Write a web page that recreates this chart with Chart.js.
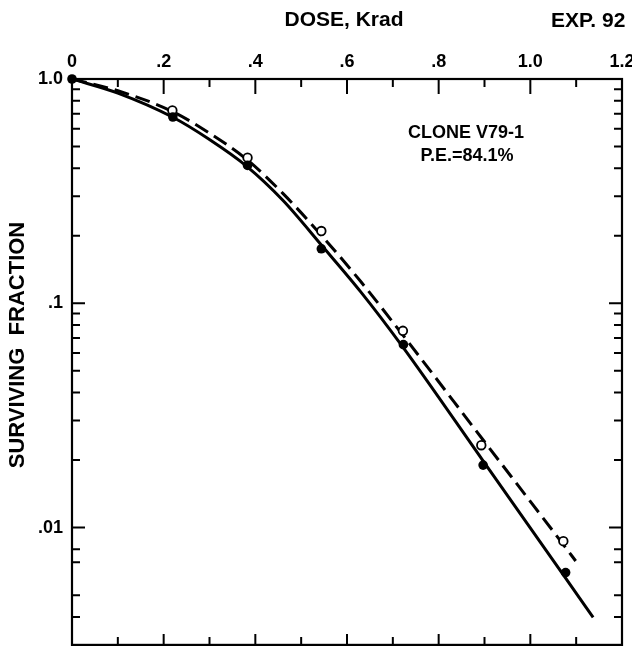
<!DOCTYPE html>
<html>
<head>
<meta charset="utf-8">
<script src="https://cdn.jsdelivr.net/npm/chart.js@4/dist/chart.umd.min.js"></script>
<style>
  html, body { margin: 0; padding: 0; background: #fff; }
  #c { display: block; }
</style>
</head>
<body>
<canvas id="c" width="632" height="651"></canvas>
<script>
// measured points (dose in krad, surviving fraction)
const doseFilled = [0, 0.22, 0.383, 0.544, 0.723, 0.897, 1.077];
const survFilled = [1.0, 0.677, 0.412, 0.175, 0.0654, 0.019, 0.0063];
const doseOpen = [0.219, 0.383, 0.544, 0.722, 0.893, 1.072];
const survOpen = [0.724, 0.446, 0.21, 0.0754, 0.0233, 0.0087];

// fitted curves
const doseSolidFit = [0, 0.1, 0.22, 0.3, 0.38, 0.46, 0.545, 0.63, 0.72, 0.895, 1.077, 1.137];
const survSolidFit = [1, 0.865, 0.675, 0.537, 0.41, 0.288, 0.181, 0.1125, 0.0646, 0.0201, 0.00595, 0.00398];
const doseDashedFit = [0, 0.1, 0.22, 0.3, 0.38, 0.46, 0.545, 0.63, 0.72, 0.895, 1.072, 1.099];
const survDashedFit = [1, 0.886, 0.715, 0.573, 0.44, 0.309, 0.2, 0.125, 0.073, 0.0249, 0.0084, 0.0071];

// axes
const xTickValues = [0, 0.1, 0.2, 0.3, 0.4, 0.5, 0.6, 0.7, 0.8, 0.9, 1.0, 1.1, 1.2];
const xTickLabels = ['0', '', '.2', '', '.4', '', '.6', '', '.8', '', '1.0', '', '1.2'];
const yTickValues = [0.004, 0.005, 0.007, 0.008, 0.01,
                     0.02, 0.03, 0.04, 0.05, 0.06, 0.07, 0.08, 0.09, 0.1,
                     0.2, 0.3, 0.4, 0.5, 0.6, 0.7, 0.8, 0.9, 1.0];
const yTickLabels = ['', '', '', '', '.01',
                     '', '', '', '', '', '', '', '', '.1',
                     '', '', '', '', '', '', '', '', '1.0'];

const xTitle = 'DOSE, Krad';
const expLabel = 'EXP. 92';
const yTitle = 'SURVIVING  FRACTION';
const noteLines = ['CLONE V79-1', 'P.E.=84.1%'];

function pts(xs, ys) {
    return xs.map((x, i) => ({x: x, y: ys[i]}));
}

function labelFor(values, labels, v) {
    for(let i=0; i<values.length; ++i) {
        if(Math.abs(values[i] - v) < 1e-9) return labels[i];
    }
    return '';
}

// frame, inward tick marks and loose text
const paperPlugin = {
    id: 'paper',
    afterDraw(chart) {
        const ctx = chart.ctx;
        const a = chart.chartArea;
        const xs = chart.scales.x;
        const ys = chart.scales.y;
        ctx.save();
        ctx.strokeStyle = '#000';
        ctx.lineCap = 'butt';

        //frame
        ctx.lineWidth = 2.2;
        ctx.strokeRect(a.left, a.top, a.right - a.left, a.bottom - a.top);

        //x ticks, top and bottom
        ctx.lineWidth = 2;
        ctx.beginPath();
        xTickValues.forEach((v, i) => {
            if(i === 0 || i === xTickValues.length-1) return;
            const px = xs.getPixelForValue(v);
            const major = xTickLabels[i] !== '';
            ctx.moveTo(px, a.top);
            ctx.lineTo(px, a.top + (major ? 15 : 8));
            ctx.moveTo(px, a.bottom);
            ctx.lineTo(px, a.bottom - (major ? 11 : 8));
        });
        //y ticks, left and right
        yTickValues.forEach((v, i) => {
            const py = ys.getPixelForValue(v);
            const major = yTickLabels[i] !== '';
            if(v === 1.0) return;
            ctx.moveTo(a.left, py);
            ctx.lineTo(a.left + (major ? 13 : 8), py);
            ctx.moveTo(a.right, py);
            ctx.lineTo(a.right - (major ? 13 : 8), py);
        });
        ctx.stroke();

        //text
        ctx.fillStyle = '#000';
        ctx.textBaseline = 'middle';
        ctx.font = 'bold 21px "Liberation Sans", Arial, sans-serif';
        ctx.textAlign = 'center';
        ctx.fillText(xTitle, 344, 20);
        ctx.textAlign = 'left';
        ctx.fillText(expLabel, 551, 21);

        ctx.font = 'bold 18px "Liberation Sans", Arial, sans-serif';
        ctx.textAlign = 'center';
        ctx.fillText(noteLines[0], 466, 133);
        ctx.fillText(noteLines[1], 467, 156);

        ctx.translate(18, 345);
        ctx.rotate(-Math.PI/2);
        ctx.font = 'bold 22px "Liberation Sans", Arial, sans-serif';
        ctx.fillText(yTitle, 0, 0);
        ctx.restore();
    }
};

const tickFont = {family: '"Liberation Sans", Arial, sans-serif', size: 18, weight: 'bold'};

new Chart(document.getElementById('c').getContext('2d'), {
    type: 'line',
    data: {
        datasets: [
            {
                data: pts(doseFilled, survFilled),
                showLine: false,
                pointRadius: 4.8,
                pointBackgroundColor: '#000',
                pointBorderColor: '#000',
                pointBorderWidth: 0,
                clip: false
            },
            {
                data: pts(doseOpen, survOpen),
                showLine: false,
                pointRadius: 4.3,
                pointBackgroundColor: '#fff',
                pointBorderColor: '#000',
                pointBorderWidth: 1.8,
                clip: false
            },
            {
                data: pts(doseSolidFit, survSolidFit),
                borderColor: '#000',
                borderWidth: 3,
                pointRadius: 0,
                cubicInterpolationMode: 'monotone',
                fill: false
            },
            {
                data: pts(doseDashedFit, survDashedFit),
                borderColor: '#000',
                borderWidth: 3,
                borderDash: [15, 7],
                pointRadius: 0,
                cubicInterpolationMode: 'monotone',
                fill: false
            }
        ]
    },
    options: {
        responsive: false,
        animation: false,
        layout: {padding: {left: 0, top: 0, right: 10, bottom: 3}},
        plugins: {
            legend: {display: false},
            tooltip: {enabled: false}
        },
        scales: {
            x: {
                type: 'linear',
                position: 'top',
                min: 0,
                max: 1.2,
                grid: {display: false, drawTicks: false},
                border: {display: false},
                afterBuildTicks: (s) => { s.ticks = xTickValues.map((v) => ({value: v})); },
                afterFit: (s) => { s.height = 79; s.paddingLeft = 0; s.paddingRight = 0; },
                ticks: {
                    autoSkip: false,
                    maxRotation: 0,
                    padding: 6,
                    color: '#000',
                    font: tickFont,
                    callback: (v) => labelFor(xTickValues, xTickLabels, v)
                }
            },
            y: {
                type: 'logarithmic',
                position: 'left',
                min: 0.003,
                max: 1.0,
                grid: {display: false, drawTicks: false},
                border: {display: false},
                afterBuildTicks: (s) => { s.ticks = yTickValues.map((v) => ({value: v})); },
                afterFit: (s) => { s.width = 72; s.paddingTop = 0; s.paddingBottom = 0; },
                ticks: {
                    autoSkip: false,
                    padding: 9,
                    color: '#000',
                    font: tickFont,
                    callback: (v) => labelFor(yTickValues, yTickLabels, v)
                }
            }
        }
    },
    plugins: [paperPlugin]
});
</script>
</body>
</html>
